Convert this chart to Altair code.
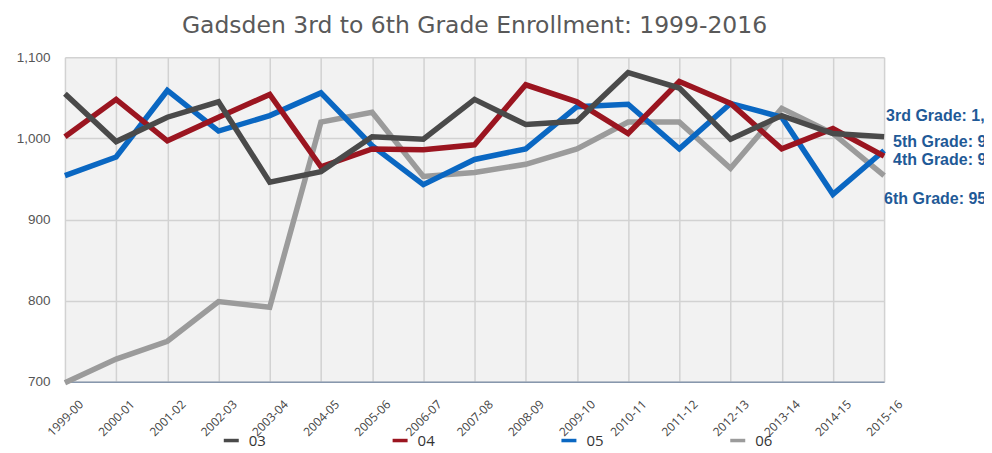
import altair as alt
import pandas as pd

years = ["1999-00", "2000-01", "2001-02", "2002-03", "2003-04", "2004-05",
         "2005-06", "2006-07", "2007-08", "2008-09", "2009-10", "2010-11",
         "2011-12", "2012-13", "2013-14", "2014-15", "2015-16"]

grade_03 = [1055, 996, 1026, 1045, 946, 959, 1002, 999, 1048, 1017, 1021, 1081,
            1062, 999, 1028, 1006, 1002]
grade_04 = [1002, 1048, 997, 1026, 1054, 965, 987, 986, 992, 1066, 1045, 1006,
            1070, 1043, 987, 1012, 978]
grade_05 = [954, 977, 1059, 1009, 1028, 1056, 991, 943, 974, 987, 1039, 1042,
            987, 1043, 1026, 931, 985]
grade_06 = [699, 728, 750, 799, 792, 1020, 1032, 953, 958, 968, 987, 1020,
            1020, 963, 1037, 1006, 954]

series_names = ["03", "04", "05", "06"]
series_values = [grade_03, grade_04, grade_05, grade_06]
label_names = ["3rd Grade", "4th Grade", "5th Grade", "6th Grade"]
colors = ["#4a4a4a", "#9b1520", "#0a67c2", "#9b9b9b"]

title_text = "Gadsden 3rd to 6th Grade Enrollment: 1999-2016"

# draw order: 06 at the bottom, 03 on top
rows = []
for name, vals in reversed(list(zip(series_names, series_values))):
    for y, v in zip(years, vals):
        rows.append({"year": y, "grade": name, "value": v})
df = pd.DataFrame(rows)

labels_df = pd.DataFrame({
    "grade": series_names,
    "label": label_names,
    "year": [years[-1]] * 4,
    "value": [vals[-1] for vals in series_values],
})

# label offsets (style)
label_offsets = {"03": (2, -21), "04": (9, 4), "05": (9, -9), "06": (0, 23)}

x_enc = alt.X("year:O", sort=years, scale=alt.Scale(type="point", padding=0),
              axis=alt.Axis(title=None, labelAngle=-45, labelAlign="center",
                            labelBaseline="middle", labelPadding=36,
                            labelFont="Open Sans", labelFontSize=12,
                            labelColor="#444444", ticks=False,
                            domainColor="#8797ad", domainWidth=1.5,
                            grid=True, gridColor="#d2d2d2", gridWidth=1.5))
y_enc = alt.Y("value:Q", scale=alt.Scale(domain=[700, 1100], nice=False, zero=False),
              axis=alt.Axis(title=None, values=[700, 800, 900, 1000, 1100],
                            format=",d", labelFont="Liberation Sans",
                            labelFontSize=13.5, labelColor="#555555",
                            labelPadding=15, ticks=False, domain=False,
                            grid=True, gridColor="#d2d2d2", gridWidth=1.5))

lines = alt.Chart(df).mark_line(strokeWidth=5.5, strokeJoin="miter").encode(
    x=x_enc,
    y=y_enc,
    color=alt.Color("grade:N",
                    scale=alt.Scale(domain=series_names, range=colors),
                    legend=alt.Legend(title=None, orient="none", direction="horizontal",
                                      legendX=157, legendY=374,
                                      symbolType="stroke", symbolSize=225,
                                      symbolStrokeWidth=3.5,
                                      labelFont="Open Sans", labelFontSize=15,
                                      labelColor="#333333", labelOffset=8,
                                      columnPadding=119)),
    detail="grade:N",
)

label_layers = []
for g in series_names:
    dx, dy = label_offsets[g]
    lay = alt.Chart(labels_df).transform_filter(
        alt.datum.grade == g
    ).transform_calculate(
        txt="datum.label + ': ' + format(datum.value, ',')"
    ).mark_text(align="left", baseline="middle", dx=dx, dy=dy,
                font="Liberation Sans", fontSize=16, fontWeight="bold",
                color="#1f5a97").encode(
        x=alt.X("year:O", sort=years, scale=alt.Scale(type="point", padding=0)),
        y=alt.Y("value:Q", scale=alt.Scale(domain=[700, 1100], nice=False, zero=False)),
        text="txt:N",
    )
    label_layers.append(lay)

chart = alt.layer(lines, *label_layers).properties(
    width=820,
    height=325,
    background="white",
    title=alt.TitleParams(title_text, font="DejaVu Sans", fontSize=23.5,
                          fontWeight="normal",
                          color="#595959", anchor="middle", offset=13),
    autosize=alt.AutoSizeParams(type="none"),
    padding={"left": 57, "top": 49, "right": 100, "bottom": 71},
).configure_view(
    fill="#f2f2f2", stroke=None
)

chart.save("out.html", embed_options={"renderer": "svg", "actions": False})
